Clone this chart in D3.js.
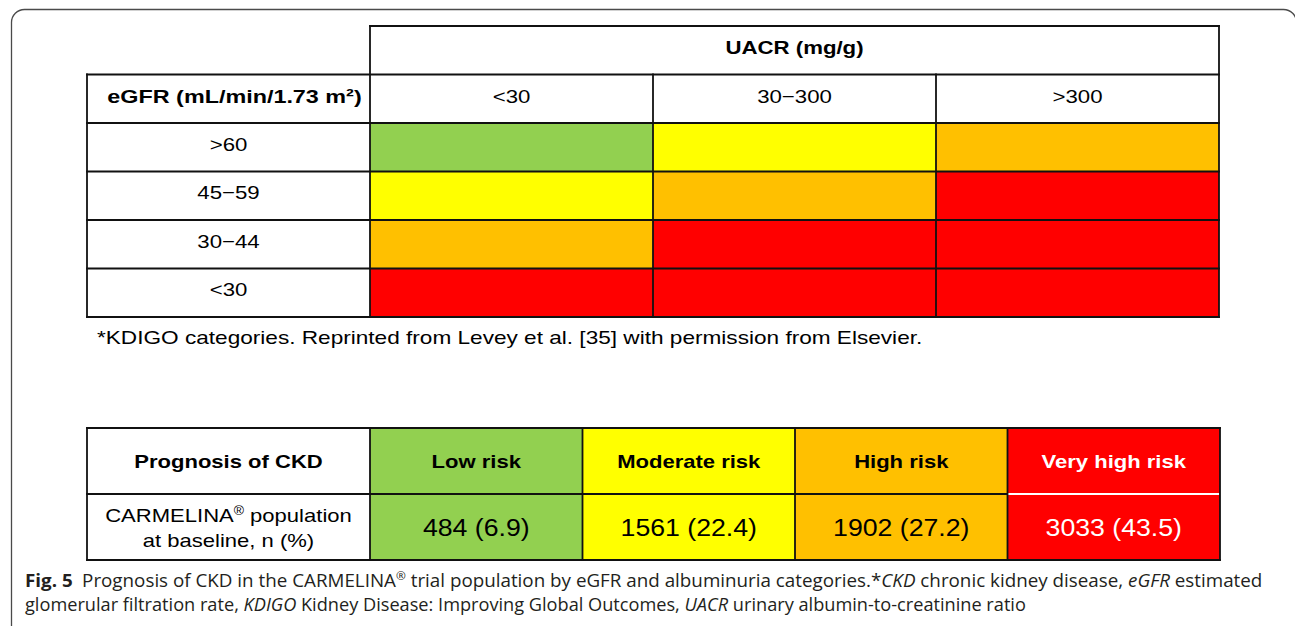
<!DOCTYPE html>
<html>
<head>
<meta charset="utf-8">
<script src="https://cdn.jsdelivr.net/npm/d3@7"></script>
<style>
  body { margin: 0; background: #fff; }
  svg { display: block; }
</style>
</head>
<body>
<svg id="chart" width="1295" height="626"></svg>
<script>
// KDIGO grid
const uacrCats = ["<30", "30\u2212300", ">300"];
const egfrCats = [">60", "45\u221259", "30\u221244", "<30"];
// risk index for each eGFR row / UACR column
const riskGrid = [
    [0, 1, 2],
    [1, 2, 3],
    [2, 3, 3],
    [3, 3, 3]
];

// CARMELINA population per risk level
const riskLevels = ["Low risk", "Moderate risk", "High risk", "Very high risk"];
const riskCounts = [484, 1561, 1902, 3033];
const riskPercents = [6.9, 22.4, 27.2, 43.5];
const riskColors = ["#92d050", "#ffff00", "#ffc000", "#ff0000"];
const riskInk = ["#000", "#000", "#000", "#fff"];

const svg = d3.select("#chart");
const font = "'Liberation Sans', Arial, sans-serif";
const lineCol = "#111";

// frame of the figure
svg.append("rect")
    .attr("x", 11.5).attr("y", 9.5)
    .attr("width", 1285).attr("height", 700)
    .attr("rx", 13)
    .attr("fill", "none")
    .attr("stroke", "#4a4a4a")
    .attr("stroke-width", 1.3);

// stretched text, the tables were scaled wider than tall
function label(parent, cx, cy, str, size, sx, opts = {}) {
    let g = parent.append("g")
        .attr("transform", `translate(${cx},${cy}) scale(${sx},1)`);
    let t = g.append("text")
        .attr("text-anchor", "middle")
        .attr("font-family", font)
        .attr("font-size", size)
        .attr("font-weight", opts.bold ? "bold" : "normal")
        .attr("fill", opts.fill || "#000")
        .attr("y", size * 0.36 + (opts.dy || 0))
        .text(str);
    return t;
}

function line(parent, x1, y1, x2, y2, col, w) {
    parent.append("line")
        .attr("x1", x1).attr("y1", y1).attr("x2", x2).attr("y2", y2)
        .attr("stroke", col || lineCol)
        .attr("stroke-width", w || 1.8)
        .attr("stroke-linecap", "square");
}

// ---------- top table ----------
let grid = svg.append("g");
let x = d3.scaleBand().domain(uacrCats).range([370, 1219]);
let y = d3.scaleBand().domain(egfrCats).range([123, 317]);
let rowH = y.bandwidth();
let leftX = 87;
let hdr1 = y.range()[0] - 2 * rowH;
let hdr2 = y.range()[0] - rowH;
let sxTop = 1.17, fsTop = 19, upTop = -3.5;

let cells = [];
egfrCats.forEach((e, i) => uacrCats.forEach((u, j) =>
    cells.push({ e: e, u: u, r: riskGrid[i][j] })));

grid.selectAll("rect.cell")
    .data(cells)
    .enter()
    .append("rect")
    .attr("class", "cell")
    .attr("x", d => x(d.u))
    .attr("y", d => y(d.e))
    .attr("width", x.bandwidth())
    .attr("height", rowH)
    .attr("fill", d => riskColors[d.r]);

// grid lines
let x1 = x.range()[1];
line(grid, x.range()[0], hdr1, x1, hdr1);
[hdr2].concat(egfrCats.map(e => y(e)), [y.range()[1]])
    .forEach(yy => line(grid, leftX, yy, x1, yy));
line(grid, leftX, hdr2, leftX, y.range()[1]);
line(grid, x.range()[0], hdr1, x.range()[0], y.range()[1]);
uacrCats.slice(1).forEach(u => line(grid, x(u), hdr2, x(u), y.range()[1]));
line(grid, x1, hdr1, x1, y.range()[1]);

// header texts
label(grid, (x.range()[0] + x1) / 2, hdr1 + rowH / 2, "UACR (mg/g)", fsTop, sxTop, { bold: true, dy: upTop });
label(grid, (leftX + x.range()[0]) / 2 + 6, hdr2 + rowH / 2, "eGFR (mL/min/1.73 m\u00b2)", fsTop, 1.23, { bold: true, dy: upTop + 1 });
uacrCats.forEach(u => label(grid, x(u) + x.bandwidth() / 2, hdr2 + rowH / 2, u, fsTop, sxTop, { dy: upTop + 1 }));
egfrCats.forEach(e => label(grid, (leftX + x.range()[0]) / 2, y(e) + rowH / 2, e, fsTop, sxTop, { dy: upTop }));

// footnote
let fn = grid.append("g")
    .attr("transform", `translate(97,${y.range()[1] + 27}) scale(1.19,1)`);
fn.append("text")
    .attr("font-family", font)
    .attr("font-size", fsTop)
    .attr("fill", "#000")
    .text("*KDIGO categories. Reprinted from Levey et al. [35] with permission from Elsevier.");

// ---------- bottom table ----------
let bot = svg.append("g");
let xb = d3.scaleBand().domain(riskLevels).range([370, 1220]);
let yb = d3.scaleBand().domain(["head", "value"]).range([428, 560]);
let sxBot = 1.16;
let bx1 = xb.range()[1];

let botCells = [];
riskLevels.forEach((r, i) => ["head", "value"].forEach(k =>
    botCells.push({ level: r, i: i, k: k })));

bot.selectAll("rect.cell")
    .data(botCells)
    .enter()
    .append("rect")
    .attr("class", "cell")
    .attr("x", d => xb(d.level))
    .attr("y", d => yb(d.k))
    .attr("width", xb.bandwidth())
    .attr("height", yb.bandwidth())
    .attr("fill", d => riskColors[d.i]);

let lastX = xb(riskLevels[riskLevels.length - 1]);
line(bot, leftX, yb("value"), lastX, yb("value"));
line(bot, lastX + 1.5, yb("value"), bx1 - 1.5, yb("value"), "#fff", 2);
line(bot, leftX, yb.range()[0], bx1, yb.range()[0]);
line(bot, leftX, yb.range()[1], bx1, yb.range()[1]);
line(bot, leftX, yb.range()[0], leftX, yb.range()[1]);
riskLevels.forEach(r => line(bot, xb(r), yb.range()[0], xb(r), yb.range()[1]));
line(bot, bx1, yb.range()[0], bx1, yb.range()[1]);

let labX = (leftX + xb.range()[0]) / 2;
let headY = yb("head") + yb.bandwidth() / 2;
let valY = yb("value") + yb.bandwidth() / 2;
label(bot, labX, headY, "Prognosis of CKD", 19, sxBot, { bold: true });
riskLevels.forEach((r, i) =>
    label(bot, xb(r) + xb.bandwidth() / 2, headY, r, 19, sxBot, { bold: true, fill: riskInk[i] }));
riskLevels.forEach((r, i) =>
    label(bot, xb(r) + xb.bandwidth() / 2, valY + 1, `${riskCounts[i]} (${riskPercents[i].toFixed(1)})`, 23, sxBot, { fill: riskInk[i] }));

let carm = label(bot, labX, valY - 12, "", 19, sxBot);
carm.append("tspan").text("CARMELINA");
carm.append("tspan").attr("font-size", 12).attr("dy", -7).text("\u00ae");
carm.append("tspan").attr("dy", 7).text(" population");
label(bot, labX, valY + 13, "at baseline, n (%)", 19, sxBot);

// ---------- caption ----------
let capFont = "'Open Sans', 'Noto Sans', sans-serif";
let cap = svg.append("g").attr("fill", "#231f20");
let g1 = cap.append("g");
let c1 = g1.append("text").attr("font-family", capFont).attr("font-size", 17.5)
    .attr("x", 0).attr("y", 0);
c1.append("tspan").attr("font-weight", "bold").text("Fig. 5");
c1.append("tspan").text("\u2002Prognosis of CKD in the CARMELINA");
c1.append("tspan").attr("font-size", 11).attr("dy", -7).text("\u00ae");
c1.append("tspan").attr("dy", 7).text(" trial population by eGFR and albuminuria categories.*");
c1.append("tspan").attr("font-style", "italic").text("CKD");
c1.append("tspan").text(" chronic kidney disease, ");
c1.append("tspan").attr("font-style", "italic").text("eGFR");
c1.append("tspan").text(" estimated");

let g2 = cap.append("g");
let c2 = g2.append("text").attr("font-family", capFont).attr("font-size", 17.5)
    .attr("x", 0).attr("y", 0);
c2.append("tspan").text("glomerular filtration rate, ");
c2.append("tspan").attr("font-style", "italic").text("KDIGO");
c2.append("tspan").text(" Kidney Disease: Improving Global Outcomes, ");
c2.append("tspan").attr("font-style", "italic").text("UACR");
c2.append("tspan").text(" urinary albumin-to-creatinine ratio");

// squeeze each caption line to the width of the printed line
g1.attr("transform", `translate(25,587) scale(${1238 / c1.node().getComputedTextLength()},1)`);
g2.attr("transform", `translate(25,611) scale(${1002 / c2.node().getComputedTextLength()},1)`);
</script>
</body>
</html>
